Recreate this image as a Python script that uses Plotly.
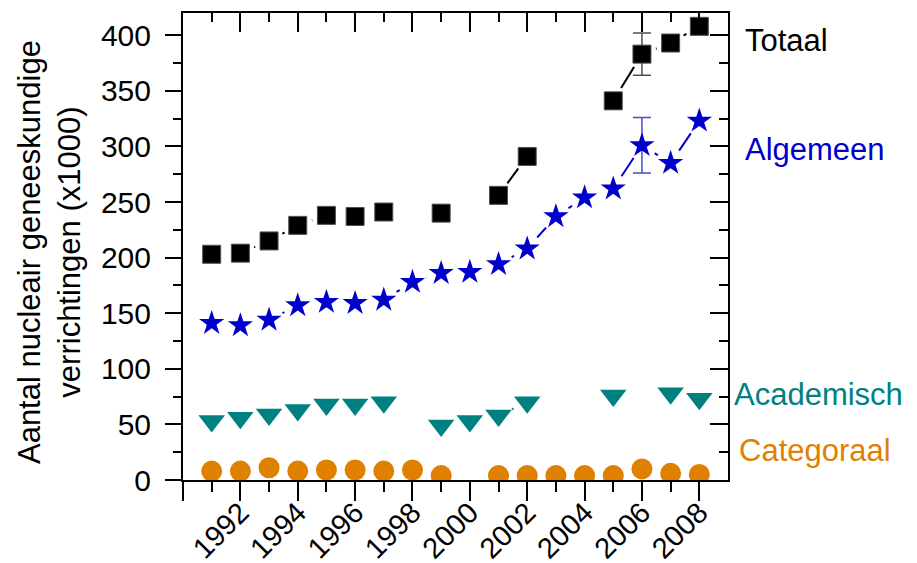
import plotly.graph_objects as go

# Yearly numbers of nuclear-medicine procedures (x1000)
years = list(range(1991, 2009))
totaal = [203, 204, 215, 229, 238, 237, 241, None, 240, None, 256, 291, None, None, 341, 383, 393, 408]
algemeen = [141, 139, 144, 157, 160, 159, 162, 178, 186, 187, 194, 208, 237, 254, 262, 301, 285, 323]
academisch = [53, 56, 59, 63, 68, 68, 70, None, 49, 53, 58, 70, None, None, 76, None, 78, 73]
categoraal = [8, 8, 11, 8, 9, 9, 8, 9, 4, None, 4, 4, 4, 4, 4, 10, 6, 5]

# Uncertainty shown for a single year
err_years = [2006]
totaal_err = [19]
algemeen_err = [25]

# Axis ticks
x_tickvals = list(range(1990, 2009, 2))
x_ticktext = [""] + [str(y) for y in range(1992, 2009, 2)]
x_minor = list(range(1991, 2009, 2))
y_tickvals = list(range(0, 401, 50))
y_minor = list(range(25, 401, 50))

BLACK = "#000000"
BLUE = "#0000CC"
TEAL = "#008080"
ORANGE = "#E08000"
FONT = "Liberation Sans, Arial, sans-serif"

series = [
    dict(name="Totaal", y=totaal, color=BLACK, symbol="square", size=18,
         edge=dict(color="#505050", width=1)),
    dict(name="Algemeen", y=algemeen, color=BLUE, symbol="star", size=19,
         edge=dict(width=0)),
    dict(name="Academisch", y=academisch, color=TEAL, symbol="triangle-down", size=23,
         edge=dict(width=0)),
    dict(name="Categoraal", y=categoraal, color=ORANGE, symbol="circle", size=21,
         edge=dict(width=0)),
]

fig = go.Figure()

# connecting lines
for s in series:
    fig.add_trace(go.Scatter(
        x=years, y=s["y"], mode="lines", connectgaps=False,
        line=dict(color=s["color"], width=2),
        hoverinfo="skip", showlegend=False))

# white discs keep the lines away from the symbols
for s in series:
    fig.add_trace(go.Scatter(
        x=years, y=s["y"], mode="markers",
        marker=dict(symbol="circle", size=30, color="white", line=dict(width=0)),
        hoverinfo="skip", showlegend=False))

# error bars
for vals, errs, col in [(totaal, totaal_err, "#505050"), (algemeen, algemeen_err, "#4848D8")]:
    fig.add_trace(go.Scatter(
        x=err_years, y=[vals[years.index(yr)] for yr in err_years], mode="markers",
        marker=dict(size=2, opacity=0),
        error_y=dict(type="data", array=errs, symmetric=True, color=col,
                     thickness=1.5, width=9),
        hoverinfo="skip", showlegend=False))

# symbols
for s in series:
    fig.add_trace(go.Scatter(
        x=years, y=s["y"], mode="markers", name=s["name"],
        marker=dict(symbol=s["symbol"], size=s["size"], color=s["color"], line=s["edge"]),
        showlegend=False))

# carrier for the mirrored top/right axes
fig.add_trace(go.Scatter(x=[], y=[], xaxis="x2", yaxis="y2", showlegend=False, hoverinfo="skip"))

fig.update_layout(
    width=917, height=563, autosize=False,
    margin=dict(l=183, r=189, t=13, b=83, pad=0),
    paper_bgcolor="white", plot_bgcolor="white",
    font=dict(family=FONT, color=BLACK),
    xaxis=dict(
        range=[1990, 2009], showgrid=False, zeroline=False, automargin=False,
        showline=True, linecolor=BLACK, linewidth=2,
        tickmode="array", tickvals=x_tickvals, ticktext=x_ticktext,
        ticks="outside", ticklen=19, tickwidth=2, tickcolor=BLACK,
        tickangle=-45, tickfont=dict(family=FONT, size=29, color=BLACK),
        ticklabelstandoff=-17,
        minor=dict(tickmode="array", tickvals=x_minor, ticks="outside",
                   ticklen=10, tickwidth=2, tickcolor=BLACK, showgrid=False),
    ),
    yaxis=dict(
        range=[0, 420], showgrid=False, zeroline=False, automargin=False,
        showline=True, linecolor=BLACK, linewidth=2,
        tickmode="array", tickvals=y_tickvals,
        ticks="outside", ticklen=16, tickwidth=2, tickcolor=BLACK,
        tickfont=dict(family=FONT, size=30, color=BLACK), ticklabelstandoff=8,
        minor=dict(tickmode="array", tickvals=y_minor, ticks="outside",
                   ticklen=8, tickwidth=2, tickcolor=BLACK, showgrid=False),
    ),
    xaxis2=dict(
        overlaying="x", side="top", anchor="y2", range=[1990, 2009],
        showgrid=False, zeroline=False, showticklabels=False, automargin=False,
        showline=True, linecolor=BLACK, linewidth=2,
        tickmode="array", tickvals=x_tickvals,
        ticks="inside", ticklen=19, tickwidth=2, tickcolor=BLACK,
        minor=dict(tickmode="array", tickvals=x_minor, ticks="inside",
                   ticklen=9, tickwidth=2, tickcolor=BLACK, showgrid=False),
    ),
    yaxis2=dict(
        overlaying="y", side="right", anchor="x2", range=[0, 420],
        showgrid=False, zeroline=False, showticklabels=False, automargin=False,
        showline=True, linecolor=BLACK, linewidth=2,
        tickmode="array", tickvals=y_tickvals,
        ticks="inside", ticklen=18, tickwidth=2, tickcolor=BLACK,
        minor=dict(tickmode="array", tickvals=y_minor, ticks="inside",
                   ticklen=9, tickwidth=2, tickcolor=BLACK, showgrid=False),
    ),
)

# series names beside the plot
labels = [
    ("Totaal", 1.0275, 395, BLACK),
    ("Algemeen", 1.0275, 297, BLUE),
    ("Academisch", 1.0073, 77, TEAL),
    ("Categoraal", 1.0165, 26.6, ORANGE),
]
for text, xp, yv, col in labels:
    fig.add_annotation(text=text, xref="paper", yref="y", x=xp, y=yv,
                       xanchor="left", yanchor="middle", showarrow=False,
                       font=dict(family=FONT, size=31, color=col))

# axis title
fig.add_annotation(text="Aantal nucleair geneeskundige<br>verrichtingen (x1000)",
                   xref="paper", yref="paper", x=-0.246, y=0.488,
                   xanchor="center", yanchor="middle", textangle=-90,
                   showarrow=False, align="center",
                   font=dict(family=FONT, size=31, color=BLACK))

fig.write_html("out.html")
